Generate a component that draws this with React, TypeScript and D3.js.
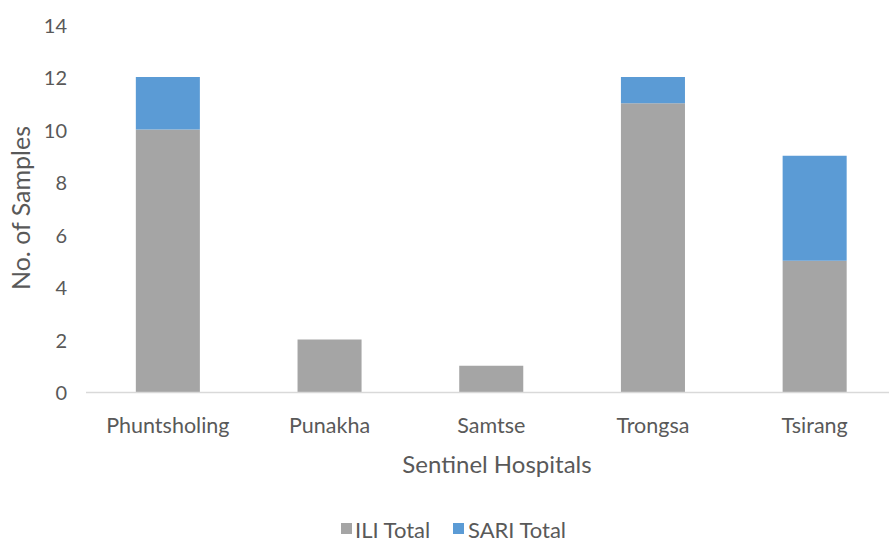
import React from "react";
import * as d3 from "d3";

const categories = ["Phuntsholing", "Punakha", "Samtse", "Trongsa", "Tsirang"];
const iliTotal = [10, 2, 1, 11, 5];
const sariTotal = [2, 0, 0, 1, 4];
const yTicks = [0, 2, 4, 6, 8, 10, 12, 14];
const seriesNames = ["ILI Total", "SARI Total"];
const seriesColors = ["#a5a5a5", "#5b9bd5"];

const W = 889;
const H = 548;
const FONT = "Lato, 'Open Sans', sans-serif";
const TXT = "#595959";

export default function App() {
  const x = d3
    .scaleBand<string>()
    .domain(categories)
    .range([87, 895.5])
    .paddingInner(0.604)
    .paddingOuter(0.302);
  const y = d3.scaleLinear().domain([0, 14]).range([392, 24.5]);

  const rows = categories.map((c, i) => ({ cat: c, ili: iliTotal[i], sari: sariTotal[i] }));
  const stack = d3.stack<any>().keys(["ili", "sari"])(rows);

  return (
    <svg
      width={W}
      height={H}
      style={{ position: "absolute", left: 0, top: 0, background: "#fff" }}
      fontFamily={FONT}
    >
      {yTicks.map((t) => (
        <text
          key={t}
          x={67}
          y={y(t)}
          textAnchor="end"
          dominantBaseline="central"
          fontSize={20}
          fill={TXT}
        >
          {t}
        </text>
      ))}
      {stack.map((s, si) =>
        s.map((d, i) => {
          const h = y(d[0]) - y(d[1]);
          if (h <= 0) return null;
          return (
            <rect
              key={`${si}-${i}`}
              x={x(categories[i])}
              y={y(d[1])}
              width={x.bandwidth()}
              height={h}
              fill={seriesColors[si]}
            />
          );
        })
      )}
      <line x1={86} x2={889} y1={392.5} y2={392.5} stroke="#d9d9d9" strokeWidth={1.5} />
      {categories.map((c) => (
        <text
          key={c}
          x={(x(c) as number) + x.bandwidth() / 2}
          y={425}
          textAnchor="middle"
          dominantBaseline="central"
          fontSize={21.5}
          fill={TXT}
        >
          {c}
        </text>
      ))}
      <text
        x={497}
        y={463}
        textAnchor="middle"
        dominantBaseline="central"
        fontSize={24}
        fill={TXT}
      >
        Sentinel Hospitals
      </text>
      <text
        transform={`translate(20,208) rotate(-90)`}
        textAnchor="middle"
        dominantBaseline="central"
        fontSize={25}
        fill={TXT}
      >
        No. of Samples
      </text>
      <g>
        <rect x={341} y={523} width={11} height={11} fill={seriesColors[0]} />
        <text x={355} y={529} dominantBaseline="central" fontSize={22} fill={TXT}>
          {seriesNames[0]}
        </text>
        <rect x={453} y={523} width={11} height={11} fill={seriesColors[1]} />
        <text x={468} y={529} dominantBaseline="central" fontSize={22} fill={TXT}>
          {seriesNames[1]}
        </text>
      </g>
    </svg>
  );
}
